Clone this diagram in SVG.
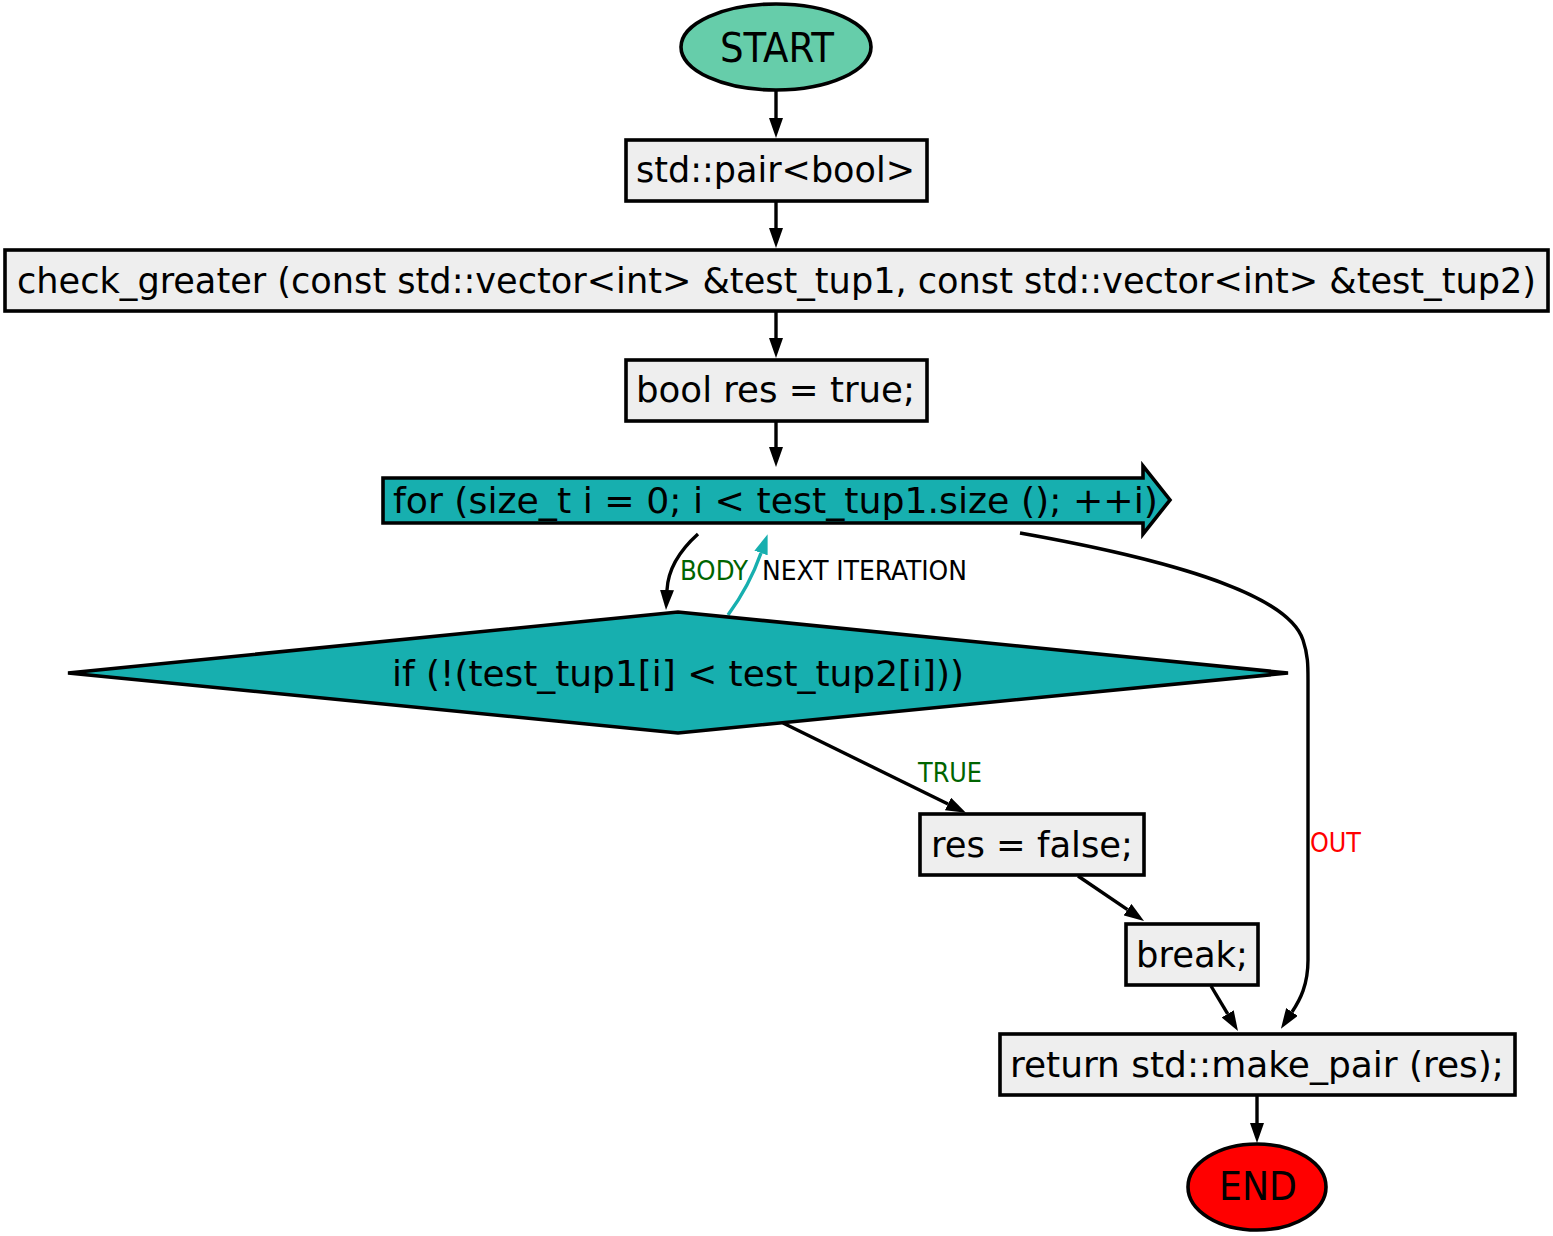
<svg xmlns="http://www.w3.org/2000/svg" width="1553" height="1236" viewBox="0 0 1553 1236">
<style>
.n{stroke:#000;stroke-width:3.6}
.box{fill:#eeeeee}
.teal{fill:#17afaf}
.t{font-family:"DejaVu Sans Condensed","DejaVu Sans",sans-serif;font-size:35px;fill:#000}
.lb{font-family:"DejaVu Sans Condensed","DejaVu Sans",sans-serif;font-size:26px}
.e{fill:none;stroke:#000;stroke-width:3.4}
.et{fill:none;stroke:#17afaf;stroke-width:3.4}
</style>
<defs>
<marker id="ah" viewBox="0 0 20 14" refX="0" refY="7" markerWidth="20" markerHeight="14" markerUnits="userSpaceOnUse" orient="auto"><path d="M0,0 L20,7 L0,14 z" fill="#000"/></marker>
<marker id="aht" viewBox="0 0 20 14" refX="0" refY="7" markerWidth="20" markerHeight="14" markerUnits="userSpaceOnUse" orient="auto"><path d="M0,0 L20,7 L0,14 z" fill="#17afaf"/></marker>
</defs>
<rect width="1553" height="1236" fill="#fff"/>
<g id="edges">
<path class="e" d="M776,90 L776,118" marker-end="url(#ah)"/>
<path class="e" d="M776,201 L776,228" marker-end="url(#ah)"/>
<path class="e" d="M776,311 L776,338" marker-end="url(#ah)"/>
<path class="e" d="M776,421 L776,447" marker-end="url(#ah)"/>
<path class="e" d="M698,534 C678,552 668,570 667,590" marker-end="url(#ah)"/>
<path class="et" d="M728,615 C745,592 755,570 761,553" marker-end="url(#aht)"/>
<path class="e" d="M1020,533 C1200,565 1290,600 1303,640 C1308,655 1308,665 1308,680 L1308,960 C1308,985 1300,1000 1292,1012" marker-end="url(#ah)"/>
<path class="e" d="M783,723 L948,804" marker-end="url(#ah)"/>
<path class="e" d="M1078,876 L1127.5,909.7" marker-end="url(#ah)"/>
<path class="e" d="M1211,986 L1227.7,1013.9" marker-end="url(#ah)"/>
<path class="e" d="M1257,1095 L1257,1123" marker-end="url(#ah)"/>
<text class="lb" x="680" y="580" fill="#006400" textLength="68" lengthAdjust="spacingAndGlyphs">BODY</text>
<text class="lb" x="762" y="580" fill="#000" textLength="205" lengthAdjust="spacingAndGlyphs">NEXT ITERATION</text>
<text class="lb" x="918" y="782" fill="#006400" textLength="64" lengthAdjust="spacingAndGlyphs">TRUE</text>
<text class="lb" x="1310" y="852" fill="#ff0000" textLength="51" lengthAdjust="spacingAndGlyphs">OUT</text>
</g>
<g id="start">
<ellipse class="n" cx="776" cy="47" rx="95" ry="43" fill="#66cdaa"/>
<text class="t" x="720" y="62" style="font-size:41px" textLength="114" lengthAdjust="spacingAndGlyphs">START</text>
</g>
<g id="pair">
<rect class="n box" x="626" y="140" width="301" height="61"/>
<text class="t" x="636" y="182" textLength="279" lengthAdjust="spacingAndGlyphs">std::pair&lt;bool&gt;</text>
</g>
<g id="check">
<rect class="n box" x="5" y="250" width="1543" height="61"/>
<text class="t" x="17" y="293" textLength="1519" lengthAdjust="spacingAndGlyphs">check_greater (const std::vector&lt;int&gt; &amp;test_tup1, const std::vector&lt;int&gt; &amp;test_tup2)</text>
</g>
<g id="bool">
<rect class="n box" x="626" y="360" width="301" height="61"/>
<text class="t" x="636" y="402" textLength="279" lengthAdjust="spacingAndGlyphs">bool res = true;</text>
</g>
<g id="for">
<polygon class="n teal" points="383,478 1143,478 1143,466 1170,500 1143,534 1143,523 383,523"/>
<text class="t" x="393" y="513" textLength="765" lengthAdjust="spacingAndGlyphs">for (size_t i = 0; i &lt; test_tup1.size (); ++i)</text>
</g>
<g id="if">
<polygon class="n teal" points="68,673 678,612 1288,673 678,733"/>
<text class="t" x="392" y="686" textLength="572" lengthAdjust="spacingAndGlyphs">if (!(test_tup1[i] &lt; test_tup2[i]))</text>
</g>
<g id="resfalse">
<rect class="n box" x="920" y="814" width="224" height="61"/>
<text class="t" x="931" y="857" textLength="202" lengthAdjust="spacingAndGlyphs">res = false;</text>
</g>
<g id="break">
<rect class="n box" x="1126" y="924" width="132" height="61"/>
<text class="t" x="1136" y="967" textLength="112" lengthAdjust="spacingAndGlyphs">break;</text>
</g>
<g id="return">
<rect class="n box" x="1000" y="1034" width="515" height="61"/>
<text class="t" x="1010" y="1077" textLength="494" lengthAdjust="spacingAndGlyphs">return std::make_pair (res);</text>
</g>
<g id="end">
<ellipse class="n" cx="1257" cy="1187" rx="69" ry="43" fill="#ff0000"/>
<text class="t" x="1219" y="1200" style="font-size:39px" textLength="78" lengthAdjust="spacingAndGlyphs">END</text>
</g>
</svg>
